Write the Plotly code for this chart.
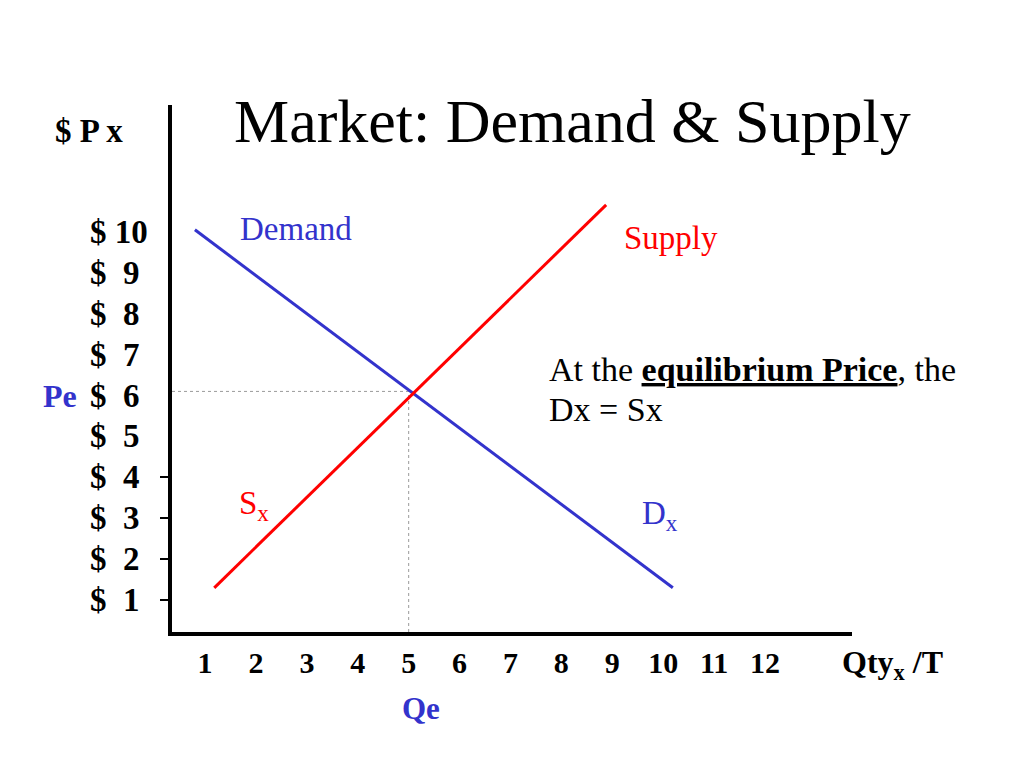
import plotly.graph_objects as go

# ---- data ----
demand_q = [0.80, 10.19]
demand_p = [10.05, 1.30]
supply_q = [1.18, 8.88]
supply_p = [1.30, 10.66]
eq_q = 5.0
eq_p = 6.1
qty_ticks = [1, 2, 3, 4, 5, 6, 7, 8, 9, 10, 11, 12]
qty_labels = [str(v) for v in qty_ticks]
price_ticks = [10, 9, 8, 7, 6, 5, 4, 3, 2, 1]
price_labels = ["$ 10"] + ["$\u2002" + str(v) for v in price_ticks[1:]]
price_tick_marks = [1, 2, 3, 4]

X_RANGE = [0.35, 13.71]
Y_RANGE = [0.22, 13.1]

BLUE = "#3333CC"
RED = "#FF0000"
FONT = "Liberation Serif"

# page body has an 8px margin; work in reference-pixel coordinates
OFF = 8
W, H = 1024 - OFF, 768 - OFF
L, R, T, B = 172, 852, 105, 632   # plot area in reference pixels


def xp(px):
    return (px - L) / (R - L)


def yp(py):
    return (B - py) / (B - T)


fig = go.Figure()

# dotted guides to equilibrium
fig.add_trace(go.Scatter(x=[X_RANGE[0], eq_q], y=[eq_p, eq_p], mode="lines",
                         line=dict(color="#9a9a9a", width=1, dash="dot"),
                         hoverinfo="skip", showlegend=False))
fig.add_trace(go.Scatter(x=[eq_q, eq_q], y=[Y_RANGE[0], eq_p], mode="lines",
                         line=dict(color="#9a9a9a", width=1, dash="dot"),
                         hoverinfo="skip", showlegend=False))

fig.add_trace(go.Scatter(x=demand_q, y=demand_p, mode="lines", name="Demand",
                         line=dict(color=BLUE, width=3), showlegend=False))
fig.add_trace(go.Scatter(x=supply_q, y=supply_p, mode="lines", name="Supply",
                         line=dict(color=RED, width=3), showlegend=False))

annotations = []


def ann(text, x, y, size, color="black", xanchor="center", yanchor="middle",
        xref="paper", yref="paper", align="left"):
    annotations.append(dict(text=text, x=x, y=y, xref=xref, yref=yref,
                            xanchor=xanchor, yanchor=yanchor, showarrow=False,
                            align=align,
                            font=dict(family=FONT, size=size, color=color)))


# title
ann("Market: Demand &amp; Supply", xp(572), yp(121), 62)
# y axis title
ann("<b>$ P x</b>", xp(53), yp(131), 33, xanchor="left")
# price labels
for v, lab in zip(price_ticks, price_labels):
    ann("<b>" + lab + "</b>", xp(88), v, 33, xanchor="left", yref="y")
# Pe / Qe
ann("<b>Pe</b>", xp(79), 6, 32, color=BLUE, xanchor="right", yref="y")
ann("<b>Qe</b>", 5.25, yp(708), 31, color=BLUE, xref="x")
# x axis title
ann("<b>Qty<sub>x</sub> /T</b>", xp(840), yp(664), 32, xanchor="left")
# curve labels
ann("Demand", xp(296), yp(229), 33, color=BLUE)
ann("Supply", xp(671), yp(238), 33, color=RED)
ann("S<sub>x</sub>", xp(237), yp(505), 33, color=RED, xanchor="left")
ann("D<sub>x</sub>", xp(640), yp(515), 33, color=BLUE, xanchor="left")
# note
ann("At the <b><u>equilibrium Price</u></b>, the", xp(547), yp(369), 34,
    xanchor="left")
ann("Dx = Sx", xp(547), yp(409), 34, xanchor="left")

fig.update_layout(
    width=W, height=H,
    margin=dict(l=L - OFF, r=1024 - R, t=T - OFF, b=768 - B),
    paper_bgcolor="white", plot_bgcolor="white",
    showlegend=False,
    annotations=annotations,
    xaxis=dict(range=X_RANGE, showgrid=False, zeroline=False,
               showline=True, linecolor="black", linewidth=3.5,
               tickmode="array", tickvals=qty_ticks, ticktext=qty_labels,
               ticks="", ticklabelstandoff=1,
               tickfont=dict(family=FONT, size=30, color="black", weight="bold")),
    yaxis=dict(range=Y_RANGE, showgrid=False, zeroline=False,
               showline=True, linecolor="black", linewidth=3.5,
               tickmode="array", tickvals=price_tick_marks, showticklabels=False,
               ticks="outside", ticklen=8, tickwidth=1.5, tickcolor="black"),
)

fig.write_html("out.html")
